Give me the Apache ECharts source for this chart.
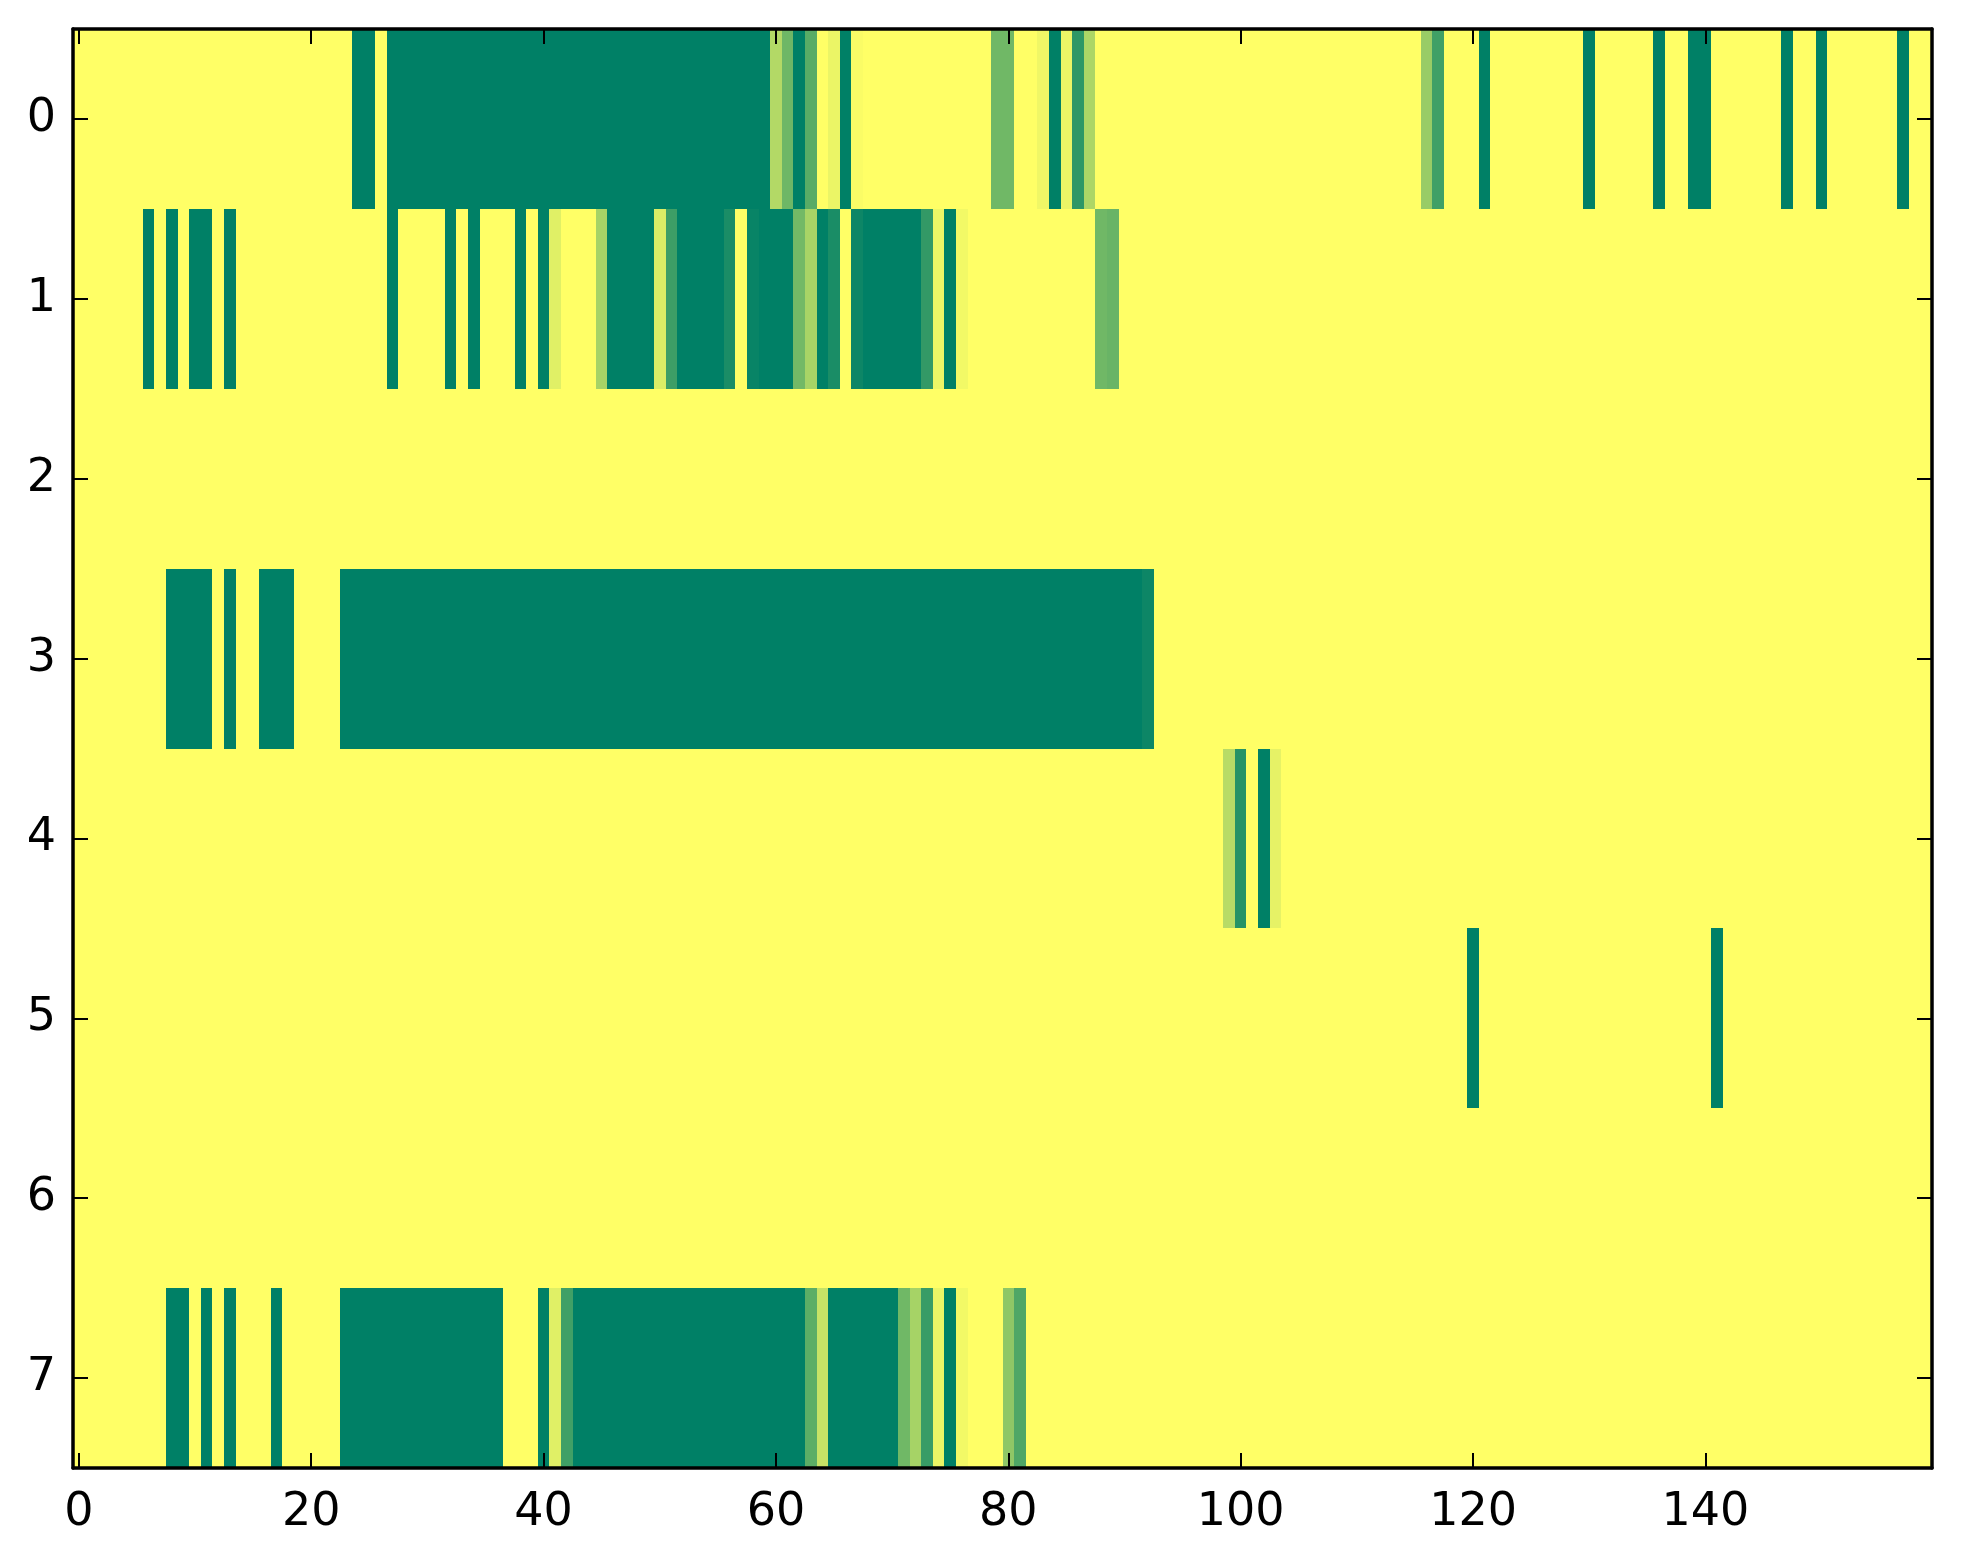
<!DOCTYPE html>
<html>
<head>
<meta charset="utf-8">
<script src="https://cdn.jsdelivr.net/npm/echarts@6/dist/echarts.min.js"></script>
<style>
html,body{margin:0;padding:0;background:#ffffff;}
#chart{width:1963px;height:1564px;}
</style>
</head>
<body>
<div id="chart"></div>
<script>
// Column categories 0..159 and row categories 0..7
var xCategories = [];
for (var i = 0; i < 160; i++) { xCategories.push(String(i)); }
var yCategories = ['0', '1', '2', '3', '4', '5', '6', '7'];

// Cell values per row (160 columns each)
var row0 = [
  0,0,0,0,0,0,0,0,0,0,0,0,0,0,0,0,0,0,0,0,
  0,0,0,0,1,1,0,1,1,1,1,1,1,1,1,1,1,1,1,1,
  1,1,1,1,1,1,1,1,1,1,1,1,1,1,1,1,1,1,1,1,
  0.3,0.57,1,0.65,0,0.08,1,0.02,0,0,0,0,0,0,0,0,0,0,0,0.56,
  0.56,0,0,0.06,1,0.08,0.82,0.32,0,0,0,0,0,0,0,0,0,0,0,0,
  0,0,0,0,0,0,0,0,0,0,0,0,0,0,0,0,0.4,0.75,0,0,
  0,1,0,0,0,0,0,0,0,0,1,0,0,0,0,0,1,0,0,1,
  1,0,0,0,0,0,0,1,0,0,1,0,0,0,0,0,0,1,0,0
];
var row1 = [
  0,0,0,0,0,0,1,0,1,0,1,1,0,1,0,0,0,0,0,0,
  0,0,0,0,0,0,0,1,0,0,0,0,1,0,1,0,0,0,1,0,
  1,0.12,0,0,0,0.35,1,1,1,1,0.14,0.76,1,1,1,1,0.9,0,0.97,1,
  1,1,0.55,0.34,1,0.9,0,0.95,1,1,1,1,1,0.8,0.07,1,0.05,0,0,0,
  0,0,0,0,0,0,0,0,0.56,0.59,0,0,0,0,0,0,0,0,0,0,
  0,0,0,0,0,0,0,0,0,0,0,0,0,0,0,0,0,0,0,0,
  0,0,0,0,0,0,0,0,0,0,0,0,0,0,0,0,0,0,0,0,
  0,0,0,0,0,0,0,0,0,0,0,0,0,0,0,0,0,0,0,0
];
var row2 = [
  0,0,0,0,0,0,0,0,0,0,0,0,0,0,0,0,0,0,0,0,
  0,0,0,0,0,0,0,0,0,0,0,0,0,0,0,0,0,0,0,0,
  0,0,0,0,0,0,0,0,0,0,0,0,0,0,0,0,0,0,0,0,
  0,0,0,0,0,0,0,0,0,0,0,0,0,0,0,0,0,0,0,0,
  0,0,0,0,0,0,0,0,0,0,0,0,0,0,0,0,0,0,0,0,
  0,0,0,0,0,0,0,0,0,0,0,0,0,0,0,0,0,0,0,0,
  0,0,0,0,0,0,0,0,0,0,0,0,0,0,0,0,0,0,0,0,
  0,0,0,0,0,0,0,0,0,0,0,0,0,0,0,0,0,0,0,0
];
var row3 = [
  0,0,0,0,0,0,0,0,1,1,1,1,0,1,0,0,1,1,1,0,
  0,0,0,1,1,1,1,1,1,1,1,1,1,1,1,1,1,1,1,1,
  1,1,1,1,1,1,1,1,1,1,1,1,1,1,1,1,1,1,1,1,
  1,1,1,1,1,1,1,1,1,1,1,1,1,1,1,1,1,1,1,1,
  1,1,1,1,1,1,1,1,1,1,1,1,0.95,0,0,0,0,0,0,0,
  0,0,0,0,0,0,0,0,0,0,0,0,0,0,0,0,0,0,0,0,
  0,0,0,0,0,0,0,0,0,0,0,0,0,0,0,0,0,0,0,0,
  0,0,0,0,0,0,0,0,0,0,0,0,0,0,0,0,0,0,0,0
];
var row4 = [
  0,0,0,0,0,0,0,0,0,0,0,0,0,0,0,0,0,0,0,0,
  0,0,0,0,0,0,0,0,0,0,0,0,0,0,0,0,0,0,0,0,
  0,0,0,0,0,0,0,0,0,0,0,0,0,0,0,0,0,0,0,0,
  0,0,0,0,0,0,0,0,0,0,0,0,0,0,0,0,0,0,0,0,
  0,0,0,0,0,0,0,0,0,0,0,0,0,0,0,0,0,0,0,0.28,
  0.85,0,1,0.1,0,0,0,0,0,0,0,0,0,0,0,0,0,0,0,0,
  0,0,0,0,0,0,0,0,0,0,0,0,0,0,0,0,0,0,0,0,
  0,0,0,0,0,0,0,0,0,0,0,0,0,0,0,0,0,0,0,0
];
var row5 = [
  0,0,0,0,0,0,0,0,0,0,0,0,0,0,0,0,0,0,0,0,
  0,0,0,0,0,0,0,0,0,0,0,0,0,0,0,0,0,0,0,0,
  0,0,0,0,0,0,0,0,0,0,0,0,0,0,0,0,0,0,0,0,
  0,0,0,0,0,0,0,0,0,0,0,0,0,0,0,0,0,0,0,0,
  0,0,0,0,0,0,0,0,0,0,0,0,0,0,0,0,0,0,0,0,
  0,0,0,0,0,0,0,0,0,0,0,0,0,0,0,0,0,0,0,0,
  1,0,0,0,0,0,0,0,0,0,0,0,0,0,0,0,0,0,0,0,
  0,1,0,0,0,0,0,0,0,0,0,0,0,0,0,0,0,0,0,0
];
var row6 = [
  0,0,0,0,0,0,0,0,0,0,0,0,0,0,0,0,0,0,0,0,
  0,0,0,0,0,0,0,0,0,0,0,0,0,0,0,0,0,0,0,0,
  0,0,0,0,0,0,0,0,0,0,0,0,0,0,0,0,0,0,0,0,
  0,0,0,0,0,0,0,0,0,0,0,0,0,0,0,0,0,0,0,0,
  0,0,0,0,0,0,0,0,0,0,0,0,0,0,0,0,0,0,0,0,
  0,0,0,0,0,0,0,0,0,0,0,0,0,0,0,0,0,0,0,0,
  0,0,0,0,0,0,0,0,0,0,0,0,0,0,0,0,0,0,0,0,
  0,0,0,0,0,0,0,0,0,0,0,0,0,0,0,0,0,0,0,0
];
var row7 = [
  0,0,0,0,0,0,0,0,1,1,0,1,0,1,0,0,0,1,0,0,
  0,0,0,1,1,1,1,1,1,1,1,1,1,1,1,1,1,0,0,0,
  1,0.12,0.75,1,1,1,1,1,1,1,1,1,1,1,1,1,1,1,1,1,
  1,1,1,0.64,0.22,1,1,1,1,1,1,0.56,0.35,0.78,0.08,1,0.05,0,0,0,
  0.44,0.69,0,0,0,0,0,0,0,0,0,0,0,0,0,0,0,0,0,0,
  0,0,0,0,0,0,0,0,0,0,0,0,0,0,0,0,0,0,0,0,
  0,0,0,0,0,0,0,0,0,0,0,0,0,0,0,0,0,0,0,0,
  0,0,0,0,0,0,0,0,0,0,0,0,0,0,0,0,0,0,0,0
];

var rows = [row0, row1, row2, row3, row4, row5, row6, row7];
var cells = [];
for (var r = 0; r < rows.length; r++) {
  for (var c = 0; c < rows[r].length; c++) {
    cells.push([c, r, rows[r][c]]);
  }
}

var FONT = 'DejaVu Sans';
var axisLineStyle = { color: '#000000', width: 3.5 };
var tickStyle = { color: '#000000', width: 2 };

function xAxisDef(position, showLabel) {
  return {
    type: 'category',
    position: position,
    data: xCategories,
    boundaryGap: true,
    z: 10,
    axisLine: { show: true, onZero: false, lineStyle: axisLineStyle },
    axisTick: { show: true, inside: true, alignWithLabel: true, interval: 19, length: 15, lineStyle: tickStyle },
    axisLabel: { show: showLabel, interval: 19, fontSize: 46, color: '#000000', fontFamily: FONT, margin: 22 },
    splitLine: { show: false }
  };
}
function yAxisDef(position, showLabel) {
  return {
    type: 'category',
    position: position,
    data: yCategories,
    inverse: true,
    boundaryGap: true,
    z: 10,
    axisLine: { show: true, onZero: false, lineStyle: axisLineStyle },
    axisTick: { show: true, inside: true, alignWithLabel: true, interval: 0, length: 15, lineStyle: tickStyle },
    axisLabel: { show: showLabel, interval: 0, fontSize: 46, color: '#000000', fontFamily: FONT, margin: 17 },
    splitLine: { show: false }
  };
}

function renderCell(params, api) {
  var p = api.coord([api.value(0), api.value(1)]);
  var s = api.size([1, 1]);
  var x0 = Math.round(p[0] - s[0] / 2);
  var x1 = Math.round(p[0] + s[0] / 2);
  var y0 = Math.round(p[1] - s[1] / 2);
  var y1 = Math.round(p[1] + s[1] / 2);
  return {
    type: 'rect',
    shape: { x: x0, y: y0, width: x1 - x0, height: y1 - y0 },
    style: { fill: api.visual('color'), stroke: null, lineWidth: 0 }
  };
}

var chart = echarts.init(document.getElementById('chart'), null, { renderer: 'canvas' });
chart.setOption({
  animation: false,
  backgroundColor: '#ffffff',
  grid: { left: 73, top: 29, width: 1859, height: 1439, containLabel: false },
  xAxis: [xAxisDef('bottom', true), xAxisDef('top', false)],
  yAxis: [yAxisDef('left', true), yAxisDef('right', false)],
  visualMap: {
    show: false,
    min: 0,
    max: 1,
    dimension: 2,
    seriesIndex: 0,
    inRange: { color: ['#ffff66', '#008066'] }
  },
  series: [{
    type: 'custom',
    xAxisIndex: 0,
    yAxisIndex: 0,
    renderItem: renderCell,
    encode: { x: 0, y: 1 },
    data: cells,
    silent: true,
    progressive: 0
  }]
});
</script>
</body>
</html>
